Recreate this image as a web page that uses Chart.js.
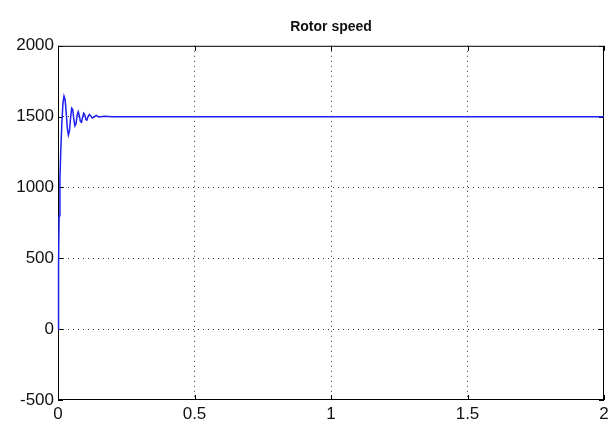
<!DOCTYPE html>
<html lang="en">
<head>
<meta charset="UTF-8">
<title>Rotor speed</title>
<script src="https://cdn.jsdelivr.net/npm/chart.js@4.4.0/dist/chart.umd.min.js"></script>
<style>
  html, body { margin: 0; padding: 0; background: #fff; overflow: hidden; }
  #wrap { width: 609px; height: 430px; }
</style>
</head>
<body>
<div id="wrap"><canvas id="myChart"></canvas></div>
<script>
// time (s) and rotor speed (rpm)
const timeS = [0, 0.002, 0.004, 0.007, 0.010, 0.014, 0.018, 0.022, 0.026, 0.030, 0.034, 0.038, 0.042, 0.046,
  0.050, 0.054, 0.058, 0.062, 0.066, 0.070, 0.074, 0.078, 0.082, 0.086, 0.090, 0.094, 0.098,
  0.102, 0.106, 0.110, 0.115, 0.120, 0.125, 0.130, 0.140, 0.150, 0.170, 0.200, 0.250, 2.0];
const speed = [0, 450, 800, 1050, 1250, 1450, 1590, 1645, 1620, 1530, 1420, 1370, 1400, 1490,
  1560, 1550, 1480, 1435, 1450, 1510, 1535, 1510, 1465, 1460, 1495, 1525, 1515,
  1480, 1475, 1500, 1515, 1505, 1490, 1495, 1508, 1497, 1502, 1500, 1500, 1500];
const xTicks = [0, 0.5, 1, 1.5, 2];
const yTicks = [-500, 0, 500, 1000, 1500, 2000];

const pts = timeS.map((t, i) => ({x: t, y: speed[i]}));

// black frame round the plot box, like matlab (drawn under the line)
const frame = {
  id: 'frame',
  beforeDatasetsDraw(chart) {
    const a = chart.chartArea, ctx = chart.ctx;
    ctx.save();
    ctx.strokeStyle = '#000';
    ctx.lineWidth = 1;
    ctx.strokeRect(a.left + 0.5, a.top + 0.5, a.right - a.left - 1, a.bottom - a.top - 1);
    // small inward ticks
    const xs = chart.scales.x, ys = chart.scales.y;
    ctx.beginPath();
    xTicks.forEach(v => {
      const px = Math.round(xs.getPixelForValue(v)) + 0.5;
      ctx.moveTo(px, a.bottom); ctx.lineTo(px, a.bottom - 5);
      ctx.moveTo(px, a.top); ctx.lineTo(px, a.top + 5);
    });
    yTicks.forEach(v => {
      const py = Math.round(ys.getPixelForValue(v)) + 0.5;
      ctx.moveTo(a.left, py); ctx.lineTo(a.left + 5, py);
      ctx.moveTo(a.right, py); ctx.lineTo(a.right - 5, py);
    });
    ctx.stroke();
    ctx.restore();
  }
};

const gridColor = (ctx, ends) => ends.includes(ctx.tick.value) ? 'rgba(0,0,0,0)' : '#333';

new Chart(document.getElementById('myChart'), {
  type: 'line',
  data: {
    datasets: [{
      data: pts,
      borderColor: '#1f1fef',
      borderWidth: 1.5,
      pointRadius: 0,
      tension: 0,
      fill: false,
      clip: 3
    }]
  },
  options: {
    responsive: true,
    maintainAspectRatio: false,
    animation: false,
    layout: { padding: { top: 0, right: 5, bottom: 0, left: 0 } },
    plugins: {
      legend: { display: false },
      tooltip: { enabled: false },
      title: {
        display: true,
        text: 'Rotor speed',
        fullSize: false,
        color: '#111',
        font: { family: 'Liberation Sans', size: 14, weight: 'bold' },
        padding: { top: 19, bottom: 10 }
      }
    },
    scales: {
      x: {
        type: 'linear',
        min: 0, max: 2,
        afterBuildTicks: s => { s.ticks = xTicks.map(v => ({value: v})); },
        afterFit: s => { s.height = 30; s.paddingRight = 0; s.paddingLeft = 0; },
        grid: { color: c => gridColor(c, [0, 2]), lineWidth: 1, drawTicks: false },
        border: { display: false, dash: [1, 4] },
        ticks: {
          color: '#111',
          padding: 4,
          maxRotation: 0,
          font: { family: 'Liberation Sans', size: 17 },
          callback: v => String(v)
        }
      },
      y: {
        min: -500, max: 2000,
        afterBuildTicks: s => { s.ticks = yTicks.map(v => ({value: v})); },
        afterFit: s => { s.width = 58; },
        grid: { color: c => gridColor(c, [-500, 2000]), lineWidth: 1, drawTicks: false },
        border: { display: false, dash: [1, 4] },
        ticks: {
          color: '#111',
          padding: 4,
          font: { family: 'Liberation Sans', size: 17 },
          callback: v => String(v)
        }
      }
    }
  },
  plugins: [frame]
});
</script>
</body>
</html>
